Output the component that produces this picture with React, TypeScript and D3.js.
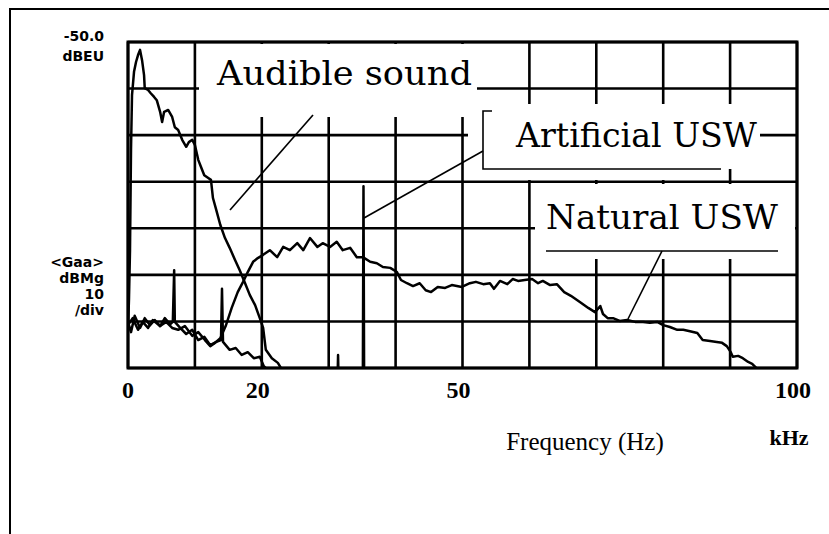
import React, { useEffect, useRef } from 'react';
import * as d3 from 'd3';

// [frequency kHz, level dB] (top of screen = -50 dB, 10 dB/div)
const audible: [number, number][] = [
  [0, -112], [0.15, -105], [0.3, -94.7], [0.45, -73.2], [0.6, -61.4], [0.9, -56.4], [1.2, -54.3],
  [1.5, -52.8], [1.8, -51.7], [2.1, -53.9], [2.4, -57.1], [2.5, -59.9], [3.0, -60.3], [3.4, -61.0],
  [3.9, -61.8], [4.3, -62.5], [4.8, -65.0], [5.1, -67.2], [5.4, -65.0], [6.0, -64.6], [6.6, -66.1],
  [7.0, -68.3], [7.5, -68.9], [8.1, -71.0], [8.7, -72.5], [9.1, -71.5], [9.6, -71.0], [10.0, -72.1],
  [10.5, -75.3], [10.9, -76.8], [11.4, -78.6], [12.0, -79.2], [12.4, -79.6], [12.7, -83.5],
  [13.2, -86.1], [13.8, -89.3], [14.5, -92.1], [15.2, -94.2], [16.0, -96.8], [16.7, -99.0],
  [17.5, -101.8], [18.2, -104.3], [19.0, -106.5], [19.7, -109.3], [20.2, -111.4], [20.6, -116.1],
  [21.5, -117.9], [22.4, -118.9], [23.5, -121.5], [30, -125],
];

const artificial: [number, number][] = [
  [0, -110.1], [0.45, -112.3], [1.0, -108.8], [1.8, -111.4], [2.5, -109.3], [3.3, -110.8],
  [4.0, -109.7], [4.8, -111.0], [5.5, -109.3], [6.3, -110.6], [6.7, -110.1], [6.9, -99.0],
  [7.0, -110.1], [7.8, -111.4], [8.7, -112.7], [9.6, -111.8], [10.5, -114.0], [11.4, -113.3],
  [12.3, -115.1], [13.2, -114.4], [13.9, -114.0], [14.05, -103.0], [14.2, -114.4], [15.2, -116.1],
  [16.1, -115.7], [17.0, -117.2], [17.9, -116.6], [18.8, -117.9], [19.7, -117.6], [20.3, -119.6],
  [21.5, -121.3], [31.3, -124], [31.4, -117.2], [31.5, -124], [35.1, -124], [35.2, -81],
  [35.3, -124], [100, -124],
];

const natural: [number, number][] = [
  [0, -110.8], [0.7, -109.3], [1.5, -111.8], [2.2, -110.1], [3.0, -111.4], [3.7, -109.7],
  [4.8, -111.0], [5.7, -110.1], [6.6, -111.4], [7.5, -111.8], [8.5, -111.0], [9.6, -113.1],
  [10.5, -112.3], [11.5, -114.0], [12.3, -115.3], [13.0, -114.6], [13.8, -113.6], [14.6, -111.0],
  [15.5, -107.1], [16.4, -103.7], [17.2, -101.5], [17.9, -99.4], [18.7, -97.2], [19.4, -96.4],
  [20.2, -95.7], [21.2, -94.7], [22.3, -96.2], [23.2, -94.0], [24.2, -94.7], [25.3, -93.2],
  [26.2, -94.7], [27.2, -92.1], [28.3, -94.0], [29.1, -93.2], [30.2, -94.0], [31.2, -92.9],
  [32.1, -94.7], [33.2, -94.2], [34.2, -96.2], [35.1, -96.2], [36.2, -97.2], [37.2, -97.5],
  [38.1, -98.3], [39.2, -98.5], [40.2, -99.4], [40.8, -101.1], [41.7, -101.8], [42.6, -102.4],
  [43.6, -101.8], [44.5, -103.3], [45.3, -103.7], [46.3, -102.6], [47.4, -102.8], [48.4, -102.2],
  [49.9, -102.6], [51.1, -101.8], [52.0, -101.5], [53.1, -102.0], [54.1, -101.8], [54.7, -103.0],
  [55.6, -101.3], [56.7, -102.0], [57.5, -100.9], [58.3, -101.3], [59.3, -101.1], [60.4, -100.9],
  [61.3, -101.8], [62.0, -101.3], [63.1, -102.2], [64.1, -102.0], [65.2, -103.7], [66.2, -104.5],
  [67.7, -106.0], [68.8, -107.1], [69.8, -108.0], [70.6, -106.7], [71.0, -108.4], [71.7, -109.3],
  [72.5, -109.3], [73.5, -109.9], [74.6, -109.7], [75.8, -110.1], [77.0, -110.1], [78.0, -110.3],
  [79.1, -110.1], [80.0, -110.8], [81.0, -111.2], [82.1, -111.8], [83.0, -111.8], [84.0, -112.1],
  [85.1, -112.5], [85.9, -114.0], [87.0, -114.2], [88.0, -114.4], [88.8, -114.6], [89.5, -115.3],
  [90.1, -116.6], [90.4, -117.6], [91.2, -117.4], [91.9, -117.9], [92.7, -118.7], [93.3, -119.1],
  [94.2, -120.4], [95, -122],
];

const xTickLabels = [0, 20, 50, 100];
const refLevelLabel = ['-50.0', 'dBEU'];
const scaleLabel = ['<Gaa>', 'dBMg', '10', '/div'];

const App = () => {
  const svgRef = useRef<SVGSVGElement>(null);

  useEffect(() => {
    document.body.style.margin = '0';
    const svg = d3.select(svgRef.current);
    svg.selectAll('*').remove();

    const x = d3.scaleLinear().domain([0, 100]).range([128, 797]);
    const y = d3.scaleLinear().domain([-120, -50]).range([368, 42]);

    // outer frame of the scan
    svg.append('path')
      .attr('d', 'M10,534 V9 H829')
      .attr('fill', 'none')
      .attr('stroke', '#000')
      .attr('stroke-width', 2);

    // grid
    const grid = svg.append('g').attr('stroke', '#000').attr('stroke-width', 2.6);
    grid.selectAll('.v').data(x.ticks(10)).join('line')
      .attr('class', 'v')
      .attr('x1', d => x(d)).attr('x2', d => x(d))
      .attr('y1', y(-50)).attr('y2', y(-120));
    grid.selectAll('.h').data(y.ticks(7)).join('line')
      .attr('class', 'h')
      .attr('x1', x(0)).attr('x2', x(100))
      .attr('y1', d => y(d)).attr('y2', d => y(d));

    // blank areas behind the labels
    const boxes = [
      { x: 199, y: 44, w: 278, h: 73 },
      { x: 468, y: 104, w: 254, h: 76 },
      { x: 722, y: 104, w: 38, h: 65 },
      { x: 535, y: 184, w: 260, h: 75 },
    ];
    svg.append('g').selectAll('rect').data(boxes).join('rect')
      .attr('x', d => d.x).attr('y', d => d.y)
      .attr('width', d => d.w).attr('height', d => d.h)
      .attr('fill', '#fff');

    svg.append('rect')
      .attr('x', x(0)).attr('y', y(-50))
      .attr('width', x(100) - x(0)).attr('height', y(-120) - y(-50))
      .attr('fill', 'none').attr('stroke', '#000').attr('stroke-width', 3);

    svg.append('clipPath').attr('id', 'plot-clip')
      .append('rect')
      .attr('x', x(0)).attr('y', y(-50))
      .attr('width', x(100) - x(0)).attr('height', y(-120) - y(-50));

    const line = d3.line<[number, number]>().x(d => x(d[0])).y(d => y(d[1]));
    svg.append('g').attr('clip-path', 'url(#plot-clip)')
      .selectAll('path').data([audible, artificial, natural]).join('path')
      .attr('d', d => line(d))
      .attr('fill', 'none')
      .attr('stroke', '#000')
      .attr('stroke-width', 2.5)
      .attr('stroke-linejoin', 'round');

    // leader lines and label frames
    const thin = svg.append('g').attr('stroke', '#000').attr('stroke-width', 1.6).attr('fill', 'none');
    thin.append('path').attr('d', 'M313,115 L230,210');
    thin.append('path').attr('d', 'M483,151 L364,218');
    thin.append('path').attr('d', 'M492,111 H483 V169 H721');
    thin.append('path').attr('d', 'M546,251 H778');
    thin.append('path').attr('d', 'M662,251 L628,319');

    const labels = [
      { text: 'Audible sound', x: 217, y: 85, len: 255 },
      { text: 'Artificial USW', x: 516, y: 147, len: 241 },
      { text: 'Natural USW', x: 546, y: 229, len: 232 },
    ];
    svg.append('g').selectAll('text').data(labels).join('text')
      .attr('x', d => d.x).attr('y', d => d.y)
      .attr('textLength', d => d.len)
      .attr('lengthAdjust', 'spacingAndGlyphs')
      .style('font-family', '"DejaVu Serif", serif')
      .style('font-size', '33px')
      .text(d => d.text);

    // left side readout
    const side = svg.append('g')
      .style('font-family', '"DejaVu Sans", sans-serif')
      .style('font-weight', 'bold')
      .style('font-size', '14px')
      .attr('text-anchor', 'end');
    side.selectAll('.ref').data(refLevelLabel).join('text')
      .attr('class', 'ref')
      .attr('x', 104).attr('y', (d, i) => 41 + i * 20)
      .text(d => d);
    side.selectAll('.scl').data(scaleLabel).join('text')
      .attr('class', 'scl')
      .attr('x', 104).attr('y', (d, i) => 267 + i * 16)
      .text(d => d);

    // x tick labels
    svg.append('g').selectAll('text').data(xTickLabels).join('text')
      .attr('x', d => x(d) - (d > 0 ? 4 : 0))
      .attr('y', 398)
      .attr('text-anchor', 'middle')
      .style('font-family', '"Liberation Serif", serif')
      .style('font-weight', 'bold')
      .style('font-size', '24px')
      .text(d => d);

    svg.append('text')
      .attr('x', 585).attr('y', 450)
      .attr('text-anchor', 'middle')
      .style('font-family', '"Liberation Serif", serif')
      .style('font-size', '25px')
      .text('Frequency (Hz)');
    svg.append('text')
      .attr('x', 789).attr('y', 445)
      .attr('text-anchor', 'middle')
      .style('font-family', '"Liberation Serif", serif')
      .style('font-weight', 'bold')
      .style('font-size', '22px')
      .text('kHz');
  }, []);

  return <svg ref={svgRef} width={829} height={534} style={{ display: 'block', background: '#fff' }} />;
};

export default App;
